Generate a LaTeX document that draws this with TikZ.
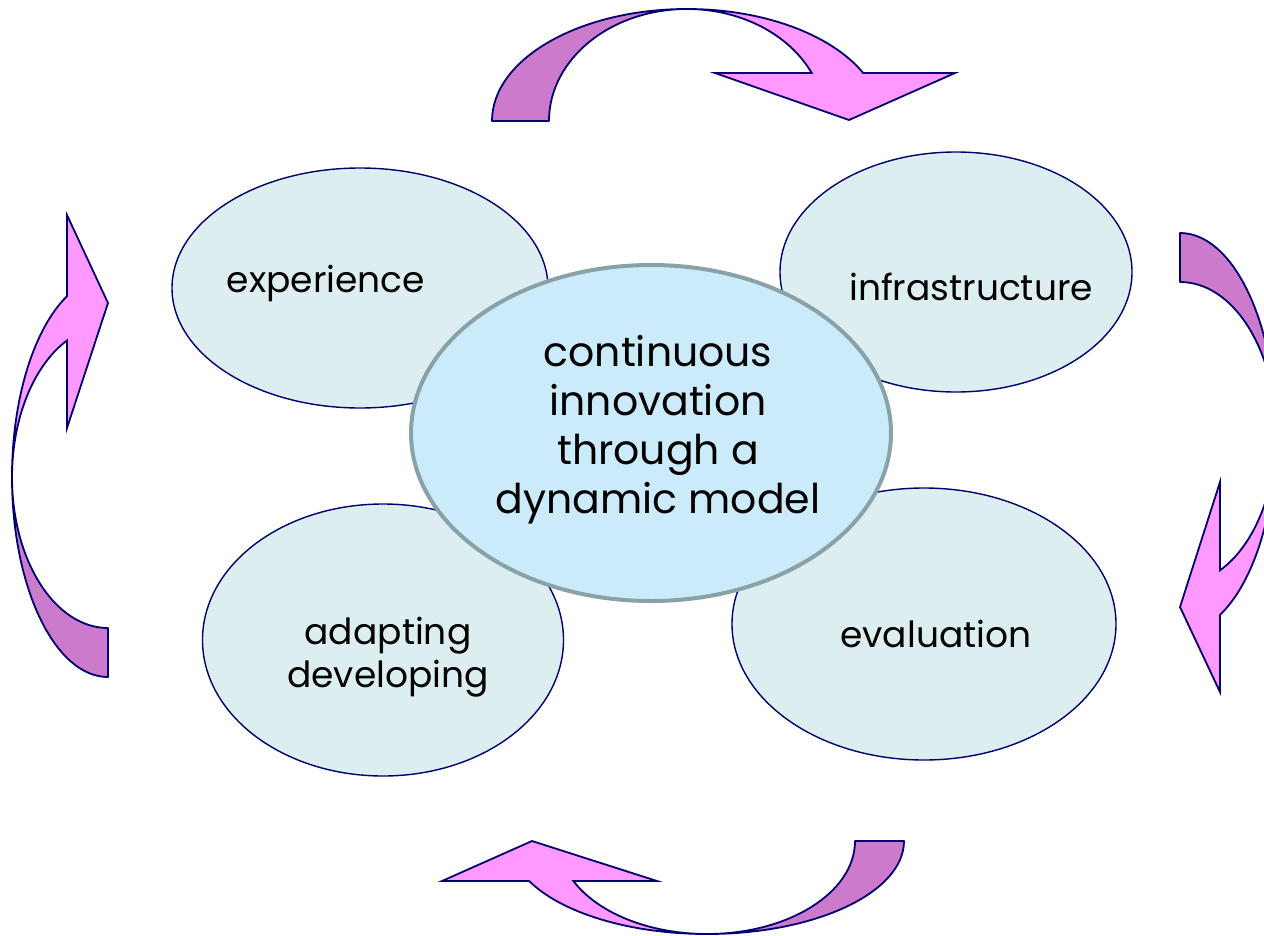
\documentclass[tikz,border=0pt]{standalone}
\usepackage{fontspec}
\setmainfont{Poppins}
\usepackage{tikz}
\usetikzlibrary{shapes.geometric}
\definecolor{bubblefill}{RGB}{221, 238, 240}
\definecolor{bubbleline}{RGB}{0, 0, 110}
\definecolor{corefill}{RGB}{204, 235, 250}
\definecolor{coreline}{RGB}{136, 162, 168}
\definecolor{arrowback}{RGB}{204, 122, 204}
\definecolor{arrowfront}{RGB}{255, 153, 255}

\begin{document}
\begin{tikzpicture}[x=1pt, y=1pt, yscale=-1,
    bubble/.style={ellipse, draw=bubbleline, fill=bubblefill, line width=1.4pt, inner sep=0pt},
    core/.style={ellipse, draw=coreline, fill=corefill, line width=4pt, inner sep=0pt},
    bubbletext/.style={align=center, font=\fontsize{36}{43}\selectfont},
    coretext/.style={align=center, font=\fontsize{41}{49}\selectfont},
    backband/.style={fill=arrowback, draw=bubbleline, line width=1.8pt, line join=round},
    frontband/.style={fill=arrowfront, draw=bubbleline, line width=1.8pt, line join=miter}]
    \useasboundingbox (0,0) rectangle (1264,935);

    % Outer ellipses
    \foreach \name/\x/\y/\w/\h in {exp/360/288/376/240, infra/956/272/352/240,
        adapt/383/640/361/272, eval/924/624/384/272} {
        \node[bubble, minimum width=\w, minimum height=\h] (\name) at (\x,\y) {};
    }
    \node[bubbletext] (exptext) at (326,283) {experience};
    \node[bubbletext] (infratext) at (971,287) {infrastructure};
    \node[bubbletext] (adapttext) at (388,657) {adapting\\developing};
    \node[bubbletext] (evaltext) at (936,634) {evaluation};

    % Central ellipse
    \node[core, minimum width=480, minimum height=336] (hub) at (651,433) {};
    \node[coretext] (hubtext) at (658,430) {continuous\\innovation\\through a\\dynamic model};

    % Top arrow
    \path[backband] (492,121) arc[start angle=180, end angle=270, x radius=195, y radius=112]
        arc[start angle=270, end angle=180, x radius=138, y radius=112] -- cycle;
    \path[frontband] (687,9) arc[start angle=270, end angle=334.62, x radius=195, y radius=112]
        -- (955,73) -- (849,120) -- (715,73) -- (811.7,73)
        arc[start angle=334.62, end angle=270, x radius=138, y radius=112] -- cycle;

    % Right arrow
    \path[backband] (1180,233) arc[start angle=270, end angle=360, x radius=96, y radius=200]
        arc[start angle=360, end angle=270, x radius=96, y radius=151] -- cycle;
    \path[frontband] (1276,433) arc[start angle=0, end angle=65.38, x radius=96, y radius=200]
        -- (1220,692) -- (1180,607) -- (1220,482) -- (1220,570.3)
        arc[start angle=65.38, end angle=0, x radius=96, y radius=151] -- cycle;

    % Bottom arrow
    \path[backband] (904,841) arc[start angle=0, end angle=90, x radius=197, y radius=93]
        arc[start angle=90, end angle=0, x radius=148, y radius=93] -- cycle;
    \path[frontband] (707,934) arc[start angle=90, end angle=154.52, x radius=197, y radius=93]
        -- (442,881) -- (532,841) -- (657,881) -- (573.4,881)
        arc[start angle=154.52, end angle=90, x radius=148, y radius=93] -- cycle;

    % Left arrow
    \path[backband] (108,677) arc[start angle=90, end angle=180, x radius=96, y radius=200]
        arc[start angle=180, end angle=90, x radius=96, y radius=151] -- cycle;
    \path[frontband] (12,477) arc[start angle=180, end angle=244.7, x radius=96, y radius=200]
        -- (67,215) -- (108,303) -- (67,428) -- (67,340.5)
        arc[start angle=244.7, end angle=180, x radius=96, y radius=151] -- cycle;
\end{tikzpicture}
\end{document}
